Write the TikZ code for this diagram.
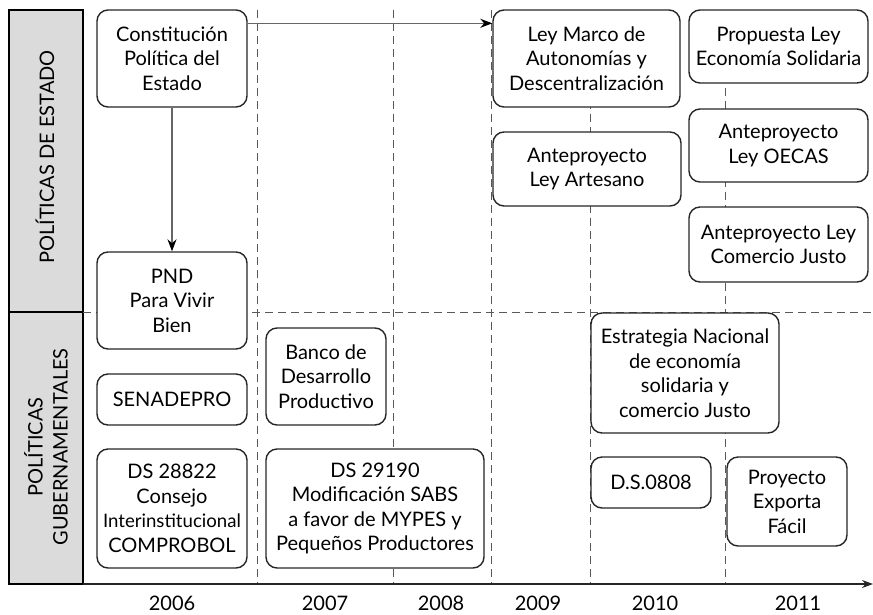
\documentclass[tikz,border=0pt]{standalone}
\usepackage{fontspec}
\setmainfont{Lato}
\usetikzlibrary{arrows.meta,calc}
\begin{document}
\begin{tikzpicture}[x=1pt,y=-1pt,
  box/.style={draw=black!85, line width=1.4pt, rounded corners=11pt, fill=white,
    align=center, inner sep=0pt, font=\fontsize{20}{24.5}\selectfont},
  gridline/.style={draw=black!65, line width=0.8pt, dash pattern=on 8pt off 5pt},
  conn/.style={draw=black!60, line width=1.2pt, -{Stealth[length=12pt,width=9pt,color=black]}},
  bar/.style={draw=black, line width=1.8pt, fill=black!14},
  barlabel/.style={rotate=90, align=center, font=\fontsize{20}{25}\selectfont},
  year/.style={font=\fontsize{20}{22}\selectfont}
]
\useasboundingbox (0,0) rectangle (873,614);
% side bars
\draw[bar] (9,10) rectangle (83,312);
\draw[bar] (9,312) rectangle (83,584);
\node[barlabel] (lab1) at (45,157) {POLÍTICAS DE ESTADO};
\node[barlabel] (lab2) at (46,447) {POLÍTICAS\\GUBERNAMENTALES};
% grid
\foreach \x in {257,393,491,590,725} \draw[gridline] (\x,10) -- (\x,584);
\draw[gridline] (83,312) -- (873,312);
% axis
\coordinate (ax0) at (83,584);
\coordinate (ax1) at (873,584);
\draw[black!85, line width=1.3pt, -{Stealth[length=11pt,width=8pt]}] (ax0) -- (ax1);
% years
\node[year] (y1) at (172,603) {2006};
\node[year] (y2) at (325,603) {2007};
\node[year] (y3) at (441,603) {2008};
\node[year] (y4) at (538,603) {2009};
\node[year] (y5) at (655,603) {2010};
\node[year] (y6) at (798,603) {2011};
% boxes
\node[box, minimum width=150pt, minimum height=97pt] (cpe) at (172,58.5) {Constitución\\Política del\\Estado};
\node[box, minimum width=150pt, minimum height=97pt] (pnd) at (172,300.5) {PND\\Para Vivir\\Bien};
\node[box, minimum width=150pt, minimum height=51pt] (sen) at (172,399.5) {SENADEPRO};
\node[box, minimum width=150pt, minimum height=119pt] (dsa) at (172,508.5) {DS 28822\\Consejo\\{\fontsize{18.6}{24.5}\selectfont Interinstitucional}\\COMPROBOL};
\node[box, minimum width=120pt, minimum height=97pt] (banco) at (326,376.5) {Banco de\\Desarrollo\\Productivo};
\node[box, minimum width=218pt, minimum height=119pt] (dsb) at (375,508.5) {DS 29190\\Modificación SABS\\a favor de MYPES y\\Pequeños Productores};
\node[box, minimum width=187pt, minimum height=97pt] (lm) at (586.5,58.5) {Ley Marco de\\Autonomías y\\Descentralización};
\node[box, minimum width=188pt, minimum height=74pt] (art) at (587,169) {Anteproyecto\\Ley Artesano};
\node[box, minimum width=179pt, minimum height=73pt] (pro) at (778.5,46.5) {Propuesta Ley\\Economía Solidaria};
\node[box, minimum width=179pt, minimum height=73pt] (oec) at (778.5,145.5) {Anteproyecto\\Ley OECAS};
\node[box, minimum width=179pt, minimum height=75pt] (cj) at (778.5,244.5) {Anteproyecto Ley\\Comercio Justo};
\node[box, minimum width=188pt, minimum height=120pt] (est) at (685,373) {Estrategia Nacional\\de economía\\solidaria y\\comercio Justo};
\node[box, minimum width=120pt, minimum height=51pt] (dsc) at (651,482.5) {D.S.0808};
\node[box, minimum width=120pt, minimum height=89pt] (exp) at (787,501.5) {Proyecto\\Exporta\\Fácil};
% connectors
\draw[conn] ($(cpe.north east)+(0,14)$) -- ($(lm.north west)+(0,14)$);
\draw[conn] (cpe.south) -- (pnd.north);
\end{tikzpicture}
\end{document}
